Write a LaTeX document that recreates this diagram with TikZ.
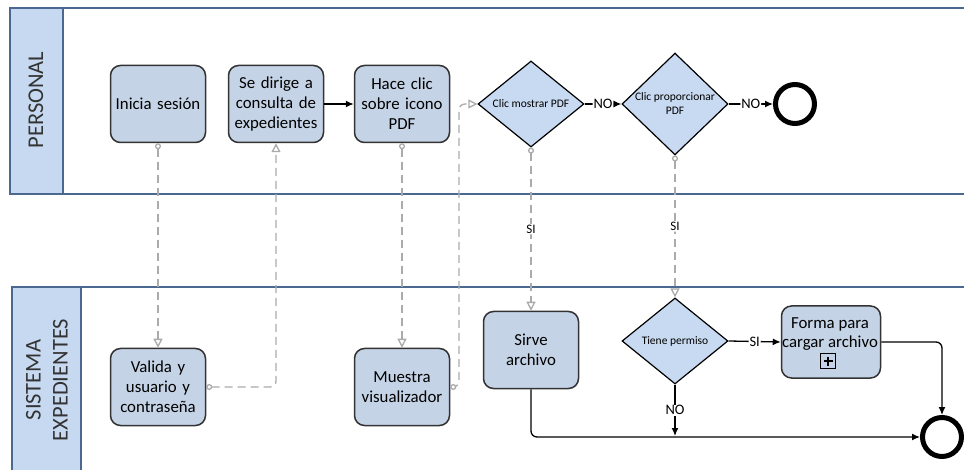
\documentclass[tikz,border=0pt]{standalone}
\usepackage{fontspec}
\setmainfont{Carlito}
\usetikzlibrary{arrows.meta,shapes.geometric}

\definecolor{poolline}{HTML}{4A6890}
\definecolor{hdrfill}{HTML}{C6D9F1}
\definecolor{taskfill}{HTML}{C5D3E6}
\definecolor{gwfill}{HTML}{C8DAF1}
\definecolor{msggray}{HTML}{ABABAB}
\definecolor{inkgray}{HTML}{333333}

\tikzset{
  pool/.style={draw=poolline, line width=1.8pt},
  task/.style={draw=inkgray, fill=taskfill, line width=1.5pt, rounded corners=10pt,
    minimum width=95pt, minimum height=77pt, align=center, text width=95pt,
    inner sep=0pt, font=\fontsize{16.8}{20}\selectfont},
  tasktext/.style={font=\fontsize{16.8}{20}\selectfont, inner sep=0pt},
  gateway/.style={diamond, draw=black, fill=gwfill, line width=1.2pt,
    minimum width=106pt, minimum height=86pt, inner sep=0pt, align=center,
    font=\fontsize{11.5}{14}\selectfont},
  endev/.style={circle, draw=black, line width=5pt, minimum size=39pt, inner sep=0pt, fill=white},
  seqflow/.style={draw=black, line width=1.3pt, -{Latex[length=8pt,width=7pt]}, rounded corners=6pt},
  msgflow/.style={draw=msggray, line width=1.3pt, dash pattern=on 8pt off 5pt, rounded corners=6pt,
    {Circle[open,length=6pt,fill=white]}-{Triangle[open,length=9pt,width=9pt,fill=white]}},
  flowlabel/.style={fill=white, inner sep=1pt, font=\fontsize{14.5}{16}\selectfont},
  laneheader/.style={rotate=90, align=center, font=\fontsize{22.5}{27}\selectfont, text=inkgray},
}

\begin{document}
\begin{tikzpicture}[x=1pt,y=-1pt]
\useasboundingbox (0,0) rectangle (964,470);

% pool: Personal
\fill[hdrfill] (10,8) rectangle (63,194);
\draw[pool] (964,8) -- (10,8) -- (10,194) -- (964,194);
\draw[pool] (63,8) -- (63,194);
\node[laneheader] (hdrA) at (36,100) {PERSONAL};

% pool: Sistema expedientes
\fill[hdrfill] (12,287) rectangle (81,472);
\draw[pool] (964,287) -- (12,287) -- (12,472);
\draw[pool] (81,287) -- (81,472);
\node[laneheader] (hdrB) at (47,380) {SISTEMA\\EXPEDIENTES};

% tasks and gateways of the Personal pool
\node[task] (inicia) at (158,104) {Inicia sesión};
\node[task] (dirige) at (276,104) {Se dirige a\\consulta de\\expedientes};
\node[task] (haceclic) at (402,104) {Hace clic\\sobre icono\\PDF};
\node[gateway] (mostrar) at (531,104) {Clic mostrar PDF};
\node[gateway] (proporcionar) at (675,104) {Clic proporcionar\\PDF};
\node[endev] (finA) at (795,104) {};

% tasks and gateways of the system pool
\node[task] (valida) at (158,387) {Valida y\\usuario y\\contraseña};
\node[task] (muestra) at (402,387) {Muestra\\visualizador};
\node[task] (sirve) at (531,350) {Sirve\\archivo};
\node[gateway] (permiso) at (675,341) {Tiene permiso};
\node[task, minimum width=99pt, minimum height=72pt] (forma) at (831,342) {};
\node[tasktext] (formaA) at (830,324) {Forma para};
\node[tasktext] (formaB) at (830,343) {cargar archivo};
\node[draw=black, line width=1.2pt, minimum size=15pt, inner sep=0pt, fill=taskfill] (sub) at (828,361) {};
\draw[line width=2pt] (sub.center) ++(-4.5,0) -- ++(9,0);
\draw[line width=2pt] (sub.center) ++(0,-4.5) -- ++(0,9);
\node[endev] (finB) at (942,437) {};

% sequence flows
\draw[seqflow] (dirige) -- (haceclic);
\draw[seqflow] (mostrar.east) -- node[flowlabel] {NO} (proporcionar.west);
\draw[seqflow] (proporcionar.east) -- node[flowlabel] {NO} (finA.west);
\draw[seqflow] (permiso.east) -- node[flowlabel] {SI} (forma.west);
\draw[seqflow] (forma.east) -| (finB.north);
\draw[seqflow] (sirve.south) |- (finB.west);
\draw[seqflow, rounded corners=0pt] (permiso.south) -- node[flowlabel] {NO} (675,436);

% message flows
\draw[msgflow] (inicia.south) -- (valida.north);
\draw[msgflow] (valida.east) -| (dirige.south);
\draw[msgflow] (haceclic.south) -- (muestra.north);
\draw[msgflow] (muestra.east) -- (459,387) -- (459,104) -- (mostrar.west);
\draw[msgflow] (mostrar.south) -- node[flowlabel, font=\fontsize{13}{15}\selectfont] {SI} (sirve.north);
\draw[msgflow] (proporcionar.south) -- node[flowlabel, font=\fontsize{13}{15}\selectfont] {SI} (permiso.north);
\end{tikzpicture}
\end{document}
